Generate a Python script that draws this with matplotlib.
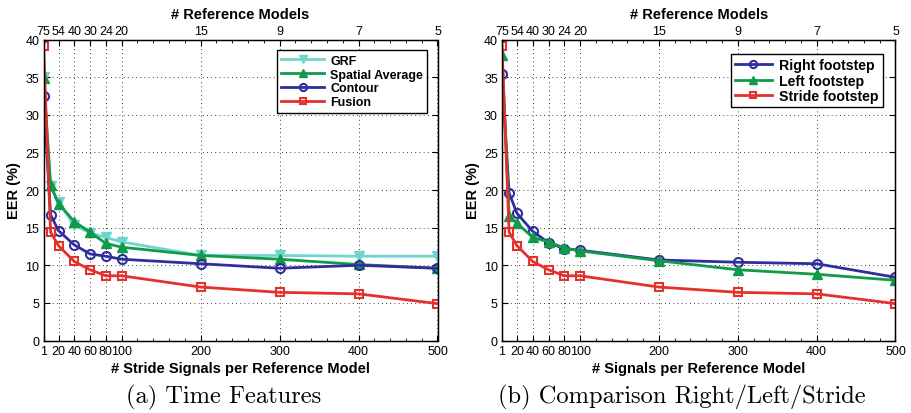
import matplotlib
matplotlib.use('Agg')
import numpy as np
from matplotlib import pyplot as plt
from matplotlib.ticker import FixedLocator

plt.rcParams['font.family'] = ['Liberation Sans', 'DejaVu Sans']

# signals per reference model (x) and top-axis labels
xVals = [1, 10, 20, 40, 60, 80, 100, 200, 300, 400, 500]
xTicks = [1, 20, 40, 60, 80, 100, 200, 300, 400, 500]
xTickLabels = ['1', '20', '40', '60', '80', '100', '200', '300', '400', '500']
refModels = ['75', '54', '40', '30', '24', '20', '15', '9', '7', '5']

# (a) time features
grf = [35.0, 20.5, 18.4, 15.3, 14.3, 13.7, 13.1, 11.3, 11.3, 11.2, 11.2]
spatialAvg = [34.9, 20.6, 18.2, 15.8, 14.4, 12.9, 12.4, 11.3, 10.8, 10.1, 9.6]
contour = [32.5, 16.7, 14.6, 12.7, 11.5, 11.2, 10.8, 10.2, 9.6, 10.0, 9.6]
fusion = [39.1, 14.4, 12.6, 10.5, 9.4, 8.6, 8.6, 7.1, 6.4, 6.2, 4.9]

# (b) right / left / stride
rightStep = [35.4, 19.6, 16.9, 14.5, 13.0, 12.2, 12.0, 10.7, 10.4, 10.2, 8.4]
leftStep = [38.0, 16.6, 15.6, 13.7, 13.1, 12.3, 11.9, 10.6, 9.4, 8.8, 8.0]
strideStep = [39.1, 14.4, 12.6, 10.5, 9.4, 8.6, 8.6, 7.1, 6.4, 6.2, 4.9]

cCyan = '#6ed6cf'
cGreen = '#119a4a'
cBlue = '#2f2e9c'
cRed = '#e5312b'

fig = plt.figure(figsize=(9.12, 4.14), dpi=100)
W, H = 912.0, 414.0


def setup(ax, xlabel):
    ax.set_xlim(1, 500)
    ax.set_ylim(0, 40)
    ax.set_xticks(xTicks)
    ax.set_xticklabels(xTickLabels)
    ax.set_yticks(range(0, 41, 5))
    ax.xaxis.set_minor_locator(FixedLocator(list(range(20, 500, 20))))
    ax.tick_params(which='both', direction='in', top=False, right=True, labelsize=9, pad=3)
    ax.tick_params(which='major', length=4, width=0.8)
    ax.tick_params(which='minor', length=2, width=0.6)
    ax.grid(True, which='major', color='black', linestyle=(0, (1, 4)), linewidth=0.6)
    ax.set_xlabel(xlabel, fontsize=10.5, fontweight='bold', labelpad=3)
    ax.set_ylabel('EER (%)', fontsize=10.5, fontweight='bold', labelpad=3)
    for s in ax.spines.values():
        s.set_linewidth(1.0)
    top = ax.twiny()
    top.set_xlim(1, 500)
    top.set_xticks(xTicks)
    top.set_xticklabels(refModels)
    top.xaxis.set_minor_locator(FixedLocator(list(range(20, 500, 20))))
    top.tick_params(which='both', direction='in', labelsize=9, pad=2)
    top.tick_params(which='major', length=4, width=0.8)
    top.tick_params(which='minor', length=2, width=0.6)
    top.set_xlabel('# Reference Models', fontsize=10.5, fontweight='bold', labelpad=5)
    return top


ax1 = fig.add_axes([43.5 / W, 1 - 341.5 / H, (437.5 - 43.5) / W, (341.5 - 40.5) / H])
setup(ax1, '# Stride Signals per Reference Model')
lw = 2.0
ms = 6.5
ax1.plot(xVals, grf, color=cCyan, lw=lw, marker='v', ms=ms, mfc=cCyan, mec=cCyan, label='GRF')
ax1.plot(xVals, spatialAvg, color=cGreen, lw=lw, marker='^', ms=ms, mfc=cGreen, mec=cGreen, label='Spatial Average')
ax1.plot(xVals, contour, color=cBlue, lw=lw, marker='o', ms=ms, mfc='none', mec=cBlue, mew=1.5, label='Contour')
ax1.plot(xVals, fusion, color=cRed, lw=lw, marker='s', ms=ms - 1, mfc='none', mec=cRed, mew=1.5, label='Fusion')
ax1.legend(loc='upper right', bbox_to_anchor=(0.99, 0.985), prop={'weight': 'bold', 'size': 9},
           frameon=True, fancybox=False, edgecolor='black', framealpha=1, handlelength=3.4,
           borderpad=0.35, labelspacing=0.15, handletextpad=0.5, markerscale=0.8).get_frame().set_linewidth(1.0)
fig.text(224 / W, 1 - 397 / H, '(a) Time Features', ha='center', va='center',
         fontsize=17.6, family=['cmr10', 'DejaVu Serif'])

ax2 = fig.add_axes([502 / W, 1 - 341.5 / H, (895.5 - 502) / W, (341.5 - 40.5) / H])
setup(ax2, '# Signals per Reference Model')
ax2.plot(xVals, rightStep, color=cBlue, lw=lw, marker='o', ms=ms, mfc='none', mec=cBlue, mew=1.5, label='Right footstep')
ax2.plot(xVals, leftStep, color=cGreen, lw=lw, marker='^', ms=ms, mfc=cGreen, mec=cGreen, label='Left footstep')
ax2.plot(xVals, strideStep, color=cRed, lw=lw, marker='s', ms=ms - 1, mfc='none', mec=cRed, mew=1.5, label='Stride footstep')
ax2.legend(loc='upper right', bbox_to_anchor=(0.985, 0.975), prop={'weight': 'bold', 'size': 10.2},
           frameon=True, fancybox=False, edgecolor='black', framealpha=1, handlelength=2.6,
           borderpad=0.3, labelspacing=0.1, handletextpad=0.5, markerscale=0.8).get_frame().set_linewidth(1.0)
fig.text(682 / W, 1 - 397 / H, '(b) Comparison Right/Left/Stride', ha='center', va='center',
         fontsize=17.6, family=['cmr10', 'DejaVu Serif'])

fig.savefig('out.png', dpi=100)
